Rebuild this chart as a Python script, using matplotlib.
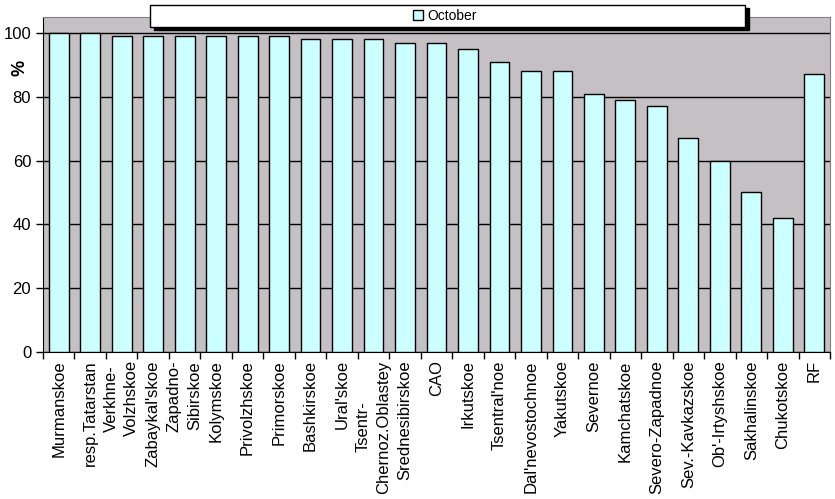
import matplotlib.pyplot as plt
from matplotlib.patches import Rectangle
import numpy as np

plt.rcParams['font.family'] = ['Liberation Sans', 'DejaVu Sans']

regions = ['Murmanskoe', 'resp.Tatarstan', 'Verkhne-\nVolzhskoe', "Zabaykal'skoe",
           'Zapadno-\nSibirskoe', 'Kolymskoe', 'Privolzhskoe', 'Primorskoe',
           'Bashkirskoe', "Ural'skoe", 'Tsentr-\nChernoz.Oblastey', 'Srednesibirskoe',
           'CAO', 'Irkutskoe', "Tsentral'noe", "Dal'nevostochnoe", 'Yakutskoe',
           'Severnoe', 'Kamchatskoe', 'Severo-Zapadnoe', 'Sev.-Kavkazskoe',
           "Ob'-Irtyshskoe", 'Sakhalinskoe', 'Chukotskoe', 'RF']
october = [100, 100, 99, 99, 99, 99, 99, 99, 98, 98, 98, 97, 97, 95, 91, 88, 88,
           81, 79, 77, 67, 60, 50, 42, 87]

fig = plt.figure(figsize=(8.35, 4.99), dpi=100)
ax = fig.add_axes([43 / 835, 1 - 352 / 499, 787 / 835, 335 / 499])
ax.set_facecolor('#c4c0c4')

x = np.arange(len(regions))
bars = ax.bar(x, october, width=0.63, color='#ccffff', edgecolor='black',
              linewidth=1, zorder=3, label='October')

ax.set_xlim(-0.5, len(regions) - 0.5)
ax.set_ylim(0, 105)
ax.set_yticks(range(0, 101, 20))
ax.tick_params(axis='y', labelsize=12, length=5, direction='out', width=1)
ax.yaxis.grid(True, color='black', linewidth=1, zorder=1)

ax.set_xticks(x)
ax.set_xticklabels(regions, rotation=90, ha='center', va='top', fontsize=12,
                   linespacing=1.45)
ax.tick_params(axis='x', length=0, pad=6)
ax.set_xticks(np.arange(-0.5, len(regions), 1), minor=True)
ax.tick_params(axis='x', which='minor', length=5, width=1, direction='out')

for side in ['top', 'right']:
    ax.spines[side].set_color('#808080')
for side in ['left', 'bottom']:
    ax.spines[side].set_color('black')

fig.text(0.024, 1 - 68 / 499, '%', rotation=90, fontsize=13, fontweight='bold',
         ha='center', va='center')

# legend box with shadow
fig.patches.append(Rectangle((154 / 835, 1 - 30 / 499), 595 / 835, 22 / 499,
                             transform=fig.transFigure, facecolor='black',
                             edgecolor='black', zorder=4))
fig.patches.append(Rectangle((150 / 835, 1 - 27 / 499), 595 / 835, 22 / 499,
                             transform=fig.transFigure, facecolor='white',
                             edgecolor='black', linewidth=1, zorder=5))
leg = fig.legend(handles=[bars], labels=['October'], frameon=False, loc='center',
                 bbox_to_anchor=(445 / 835, 1 - 16 / 499), fontsize=10,
                 handlelength=0.7, handleheight=0.7, handletextpad=0.3)
leg.set_zorder(6)

fig.savefig('out.png', dpi=100)
